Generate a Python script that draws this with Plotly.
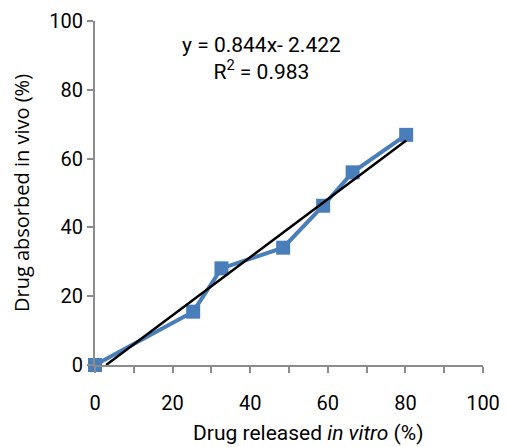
import plotly.graph_objects as go

# In vitro release vs in vivo absorption (%)
released_in_vitro = [0, 25.3, 32.6, 48.5, 58.8, 66.4, 80.2]
absorbed_in_vivo = [0, 15.5, 28.1, 34.1, 46.3, 56.0, 66.9]

# Linear fit reported for the data
slope = 0.844
intercept = -2.422
r_squared = 0.983
fit_x = [-intercept / slope, 80.2]
fit_y = [slope * v + intercept for v in fit_x]

tick_vals = [0, 20, 40, 60, 80, 100]

BLUE = "#4a7ebb"
AXIS = "#8c8c8c"
FONT = "Roboto, 'Noto Sans', sans-serif"

fig = go.Figure()
fig.add_trace(go.Scatter(
    x=released_in_vitro, y=absorbed_in_vivo, mode="lines+markers",
    line=dict(color=BLUE, width=4),
    marker=dict(symbol="square", size=14, color=BLUE),
    cliponaxis=False, showlegend=False,
))
fig.add_trace(go.Scatter(
    x=fit_x, y=fit_y, mode="lines",
    line=dict(color="black", width=2.5),
    showlegend=False,
))

fig.add_annotation(
    x=43, y=89, xref="x", yref="y",
    text="y = %.3fx- %.3f<br>R<sup>2</sup> = %.3f" % (slope, -intercept, r_squared),
    showarrow=False, align="center",
    font=dict(family=FONT, size=21, color="black"),
)

# x-axis title, set slightly right of the plot centre
fig.add_annotation(
    x=55, y=0, xref="x", yref="paper", yanchor="middle", yshift=-68,
    text="Drug released <i>in vitro</i> (%)",
    showarrow=False, font=dict(family=FONT, size=21, color="black"),
)

fig.update_layout(
    width=507, height=447,
    margin=dict(l=95, r=24, t=21, b=82),
    paper_bgcolor="white", plot_bgcolor="white",
    font=dict(family=FONT, size=20, color="black"),
)
fig.update_xaxes(
    range=[0, 100], tickvals=tick_vals, showgrid=False, zeroline=False,
    showline=True, linecolor=AXIS, linewidth=2,
    ticks="outside", ticklen=6, tickcolor=AXIS, tickwidth=2,
    minor=dict(dtick=10, ticks="outside", ticklen=6, tickcolor=AXIS, tickwidth=2),
    tickfont=dict(size=20), ticklabelstandoff=13,
    automargin=False,
)
fig.update_yaxes(
    range=[0, 100], tickvals=tick_vals, showgrid=False, zeroline=False,
    showline=True, linecolor=AXIS, linewidth=2,
    ticks="outside", ticklen=6, tickcolor=AXIS, tickwidth=2,
    tickfont=dict(size=20),
    title=dict(text="Drug absorbed in vivo (%)",
               font=dict(family="'Open Sans', sans-serif", size=20), standoff=14),
    automargin=False,
)

fig.write_html("out.html")
